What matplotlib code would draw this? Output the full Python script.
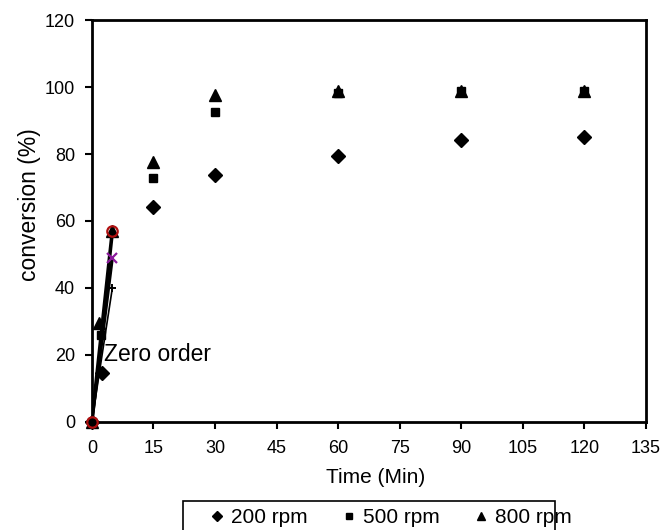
import matplotlib
matplotlib.use("Agg")
import matplotlib.pyplot as plt
from matplotlib.patches import Rectangle

plt.rcParams["font.family"] = ["Liberation Sans", "DejaVu Sans"]

# measured points (Time in min, conversion in %)
time_200 = [0, 2.5, 15, 30, 60, 90, 120]
conv_200 = [0, 14.5, 64.3, 73.7, 79.3, 84.1, 85.2]
time_500 = [0, 2.2, 15, 30, 60, 90, 120]
conv_500 = [0, 26, 72.8, 92.5, 98.2, 98.8, 99.0]
time_800 = [0, 1.8, 5, 15, 30, 60, 90, 120]
conv_800 = [0, 29.5, 57, 77.5, 97.7, 99.0, 99.0, 99.0]

# zero order fits (start / end)
fit_time = [0, 5]
fit_800 = [0, 57]
fit_500 = [0, 49]
fit_200 = [0, 40]

xticks = list(range(0, 136, 15))
yticks = list(range(0, 121, 20))

W, H = 661, 530
fig = plt.figure(figsize=(W / 100, H / 100), dpi=100)
ax = fig.add_axes([0.139, 0.2047, 0.838, 0.757])

ax.plot(fit_time, fit_800, color="black", lw=2.6, zorder=3)
ax.plot(fit_time, fit_500, color="black", lw=2.2, zorder=3)
ax.plot(fit_time, fit_200, color="black", lw=1.2, zorder=3)
ax.plot(fit_time, fit_800, ls="none", marker="o", ms=7.5, mfc="none",
        mec="#b01010", mew=1.6, zorder=5, clip_on=False)
ax.plot(fit_time[1:], fit_500[1:], ls="none", marker="x", ms=6.5,
        mec="#8b1a9b", mew=1.6, zorder=5)
ax.plot(fit_time[1:], fit_200[1:], ls="none", marker="+", ms=6,
        mec="black", mew=1.4, zorder=5)

ax.plot(time_200, conv_200, ls="none", marker="D", ms=7, color="black",
        label="200 rpm", zorder=4, clip_on=False)
ax.plot(time_500, conv_500, ls="none", marker="s", ms=5.5, color="black",
        label="500 rpm", zorder=4, clip_on=False)
ax.plot(time_800, conv_800, ls="none", marker="^", ms=8.5, color="black",
        label="800 rpm", zorder=4, clip_on=False)

ax.text(3.0, 20.0, "Zero order", fontsize=16.5, va="center", ha="left")

ax.set_xlim(0, 135)
ax.set_ylim(0, 120)
ax.set_xticks(xticks)
ax.set_yticks(yticks)
ax.tick_params(direction="out", length=5, width=1.5, labelsize=13)
ax.tick_params(axis="x", pad=8)
ax.tick_params(axis="y", pad=7)
for s in ax.spines.values():
    s.set_linewidth(2)
ax.set_xlabel("Time (Min)", fontsize=15)
ax.xaxis.set_label_coords(0.513, -0.117)
ax.set_ylabel("conversion (%)", fontsize=16.5)
ax.yaxis.set_label_coords(-0.091, 0.54)

# legend entries without frame, box drawn separately (wide left padding)
leg = ax.legend(loc="upper left", bbox_to_anchor=(210.5 / W, 1 - 508 / H),
                bbox_transform=fig.transFigure, ncol=3, frameon=False,
                fontsize=15, handlelength=0.6, handletextpad=0.37,
                columnspacing=1.7, borderpad=0, markerscale=0.75,
                borderaxespad=0)
box = Rectangle((183 / W, -0.02), (555 - 183) / W, 0.02 + 1 - 501 / H,
                transform=fig.transFigure, fill=False, edgecolor="black",
                lw=1.2, clip_on=False)
fig.add_artist(box)

fig.savefig("out.png", dpi=100)
